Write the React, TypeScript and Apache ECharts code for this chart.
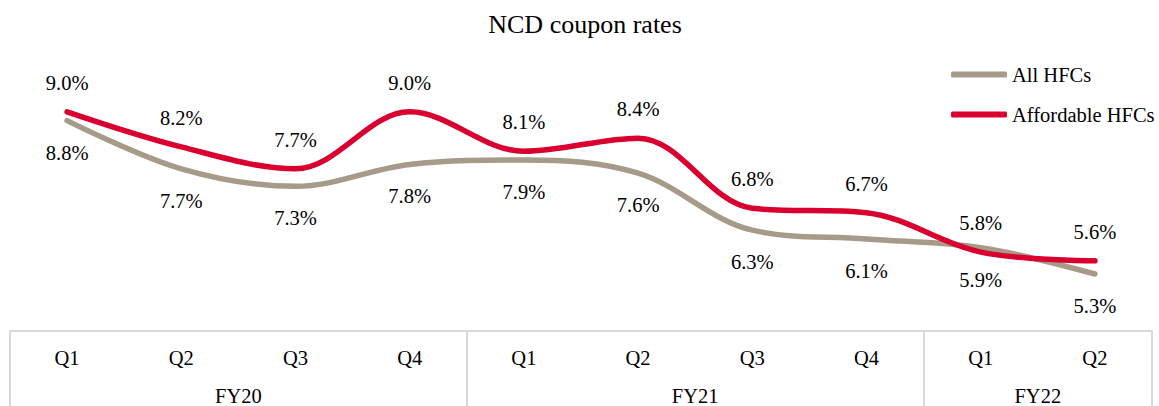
import React, { useEffect, useRef } from "react";
import * as echarts from "echarts";

const quarters = ["Q1", "Q2", "Q3", "Q4", "Q1", "Q2", "Q3", "Q4", "Q1", "Q2"];
const fiscalYears = ["FY20", "FY21", "FY22"];
const fiscalYearCenters = [2, 6, 9];
const allHFCs = [8.8, 7.7, 7.3, 7.8, 7.9, 7.6, 6.3, 6.1, 5.9, 5.3];
const affordableHFCs = [9.0, 8.2, 7.7, 9.0, 8.1, 8.4, 6.8, 6.7, 5.8, 5.6];
const groupStarts = [0, 4, 8];

const FONT = "'Liberation Serif', 'Times New Roman', serif";
const GREY = "#A69A89";
const RED = "#D9002F";
const BOX = "#d9d9d9";

export default function App() {
  const ref = useRef<HTMLDivElement>(null);
  useEffect(() => {
    document.body.style.margin = "0";
    if (!ref.current) return;
    const chart = echarts.init(ref.current, null, { renderer: "svg" });
    const fmt = (p: any) => Number(p.value).toFixed(1) + "%";
    const labelText = { fontFamily: FONT, fontSize: 20.5, color: "#000", fontWeight: "normal" };
    chart.setOption({
      animation: false,
      textStyle: { fontFamily: FONT },
      title: {
        text: "NCD coupon rates",
        left: 580,
        textAlign: "center",
        top: 6,
        textStyle: { fontFamily: FONT, fontSize: 26, fontWeight: "normal", color: "#000" },
      },
      legend: {
        orient: "vertical",
        left: 951,
        top: 64,
        padding: 0,
        itemWidth: 56,
        itemHeight: 6,
        itemGap: 19,
        icon: "roundRect",
        textStyle: { fontFamily: FONT, fontSize: 20.5, color: "#000" },
        data: ["All HFCs", "Affordable HFCs"],
      },
      grid: { left: 10, right: 7, top: 68, bottom: 74 },
      xAxis: [
        {
          type: "category",
          data: quarters,
          boundaryGap: true,
          axisLine: { show: true, onZero: false, lineStyle: { color: BOX, width: 2 } },
          axisTick: {
            show: true,
            length: 80,
            interval: (i: number) => groupStarts.indexOf(i) >= 0,
            lineStyle: { color: BOX, width: 2 },
          },
          axisLabel: { margin: 16, ...labelText },
        },
        {
          type: "value",
          position: "bottom",
          min: 0,
          max: 10,
          interval: 1,
          axisLine: { show: false, onZero: false },
          axisTick: { show: false },
          splitLine: { show: false },
          axisLabel: {
            margin: 54,
            ...labelText,
            showMinLabel: true,
            showMaxLabel: true,
            formatter: (v: number) => {
              const k = fiscalYearCenters.indexOf(v);
              return k >= 0 ? fiscalYears[k] : "";
            },
          },
        },
      ],
      yAxis: { type: "value", min: 4, max: 10, show: false, splitLine: { show: false } },
      series: [
        {
          name: "All HFCs",
          type: "line",
          data: allHFCs,
          smooth: 0.35,
          symbol: "circle",
          symbolSize: 1,
          showSymbol: true,
          lineStyle: { color: GREY, width: 5.5, cap: "round" },
          itemStyle: { color: GREY },
          label: { show: true, position: "bottom", distance: 21, formatter: fmt, ...labelText },
        },
        {
          name: "Affordable HFCs",
          type: "line",
          data: affordableHFCs,
          smooth: 0.35,
          symbol: "circle",
          symbolSize: 1,
          showSymbol: true,
          lineStyle: { color: RED, width: 5.5, cap: "round" },
          itemStyle: { color: RED },
          label: { show: true, position: "top", distance: 18, formatter: fmt, ...labelText },
        },
      ],
    });
    return () => chart.dispose();
  }, []);
  return <div ref={ref} style={{ width: 1159, height: 406 }} />;
}
